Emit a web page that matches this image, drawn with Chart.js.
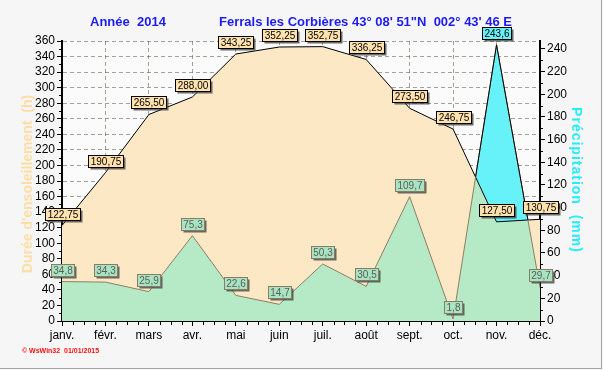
<!DOCTYPE html>
<html>
<head>
<meta charset="utf-8">
<script src="https://cdn.jsdelivr.net/npm/chart.js@4.4.1/dist/chart.umd.min.js"></script>
<style>
  html, body { margin: 0; padding: 0; background: #f6f6f6; }
  #wrap { width: 603px; height: 370px; }
</style>
</head>
<body>
<div id="wrap"><canvas id="chart" width="603" height="370"></canvas></div>
<script>
const months = ['janv.', 'févr.', 'mars', 'avr.', 'mai', 'juin', 'juil.', 'août', 'sept.', 'oct.', 'nov.', 'déc.'];
const sunshineHours = [122.75, 190.75, 265.50, 288.00, 343.25, 352.25, 352.75, 336.25, 273.50, 246.75, 127.50, 130.75];
const rainMm = [34.8, 34.3, 25.9, 75.3, 22.6, 14.7, 50.3, 30.5, 109.7, 1.8, 243.6, 29.7];
const leftTicks = [0, 20, 40, 60, 80, 100, 120, 140, 160, 180, 200, 220, 240, 260, 280, 300, 320, 340, 360];
const rightTicks = [0, 20, 40, 60, 80, 100, 120, 140, 160, 180, 200, 220, 240];

const FONT = '"Liberation Sans", Arial, sans-serif';
const BEIGE = '#FDE8C6';
const GREEN = '#B6EAC6';
const CYAN = '#66F2F8';
const GRID = 'rgba(95, 85, 65, 0.55)';

const fmt = (v, d) => v.toFixed(d).replace('.', ',');

function drawBox(ctx, text, cx, bottom, fill, border, color) {
  ctx.font = '10px ' + FONT;
  const w = Math.round(ctx.measureText(text).width) + 4;
  const h = 12;
  const x = Math.round(cx - w / 2) + 0.5;
  const y = Math.round(bottom - h) + 0.5;
  ctx.fillStyle = 'rgba(60,60,60,0.75)';
  ctx.fillRect(x + 2, y + 2, w, h);
  ctx.fillStyle = fill;
  ctx.fillRect(x, y, w, h);
  ctx.strokeStyle = border;
  ctx.lineWidth = 1;
  ctx.strokeRect(x, y, w, h);
  ctx.fillStyle = color;
  ctx.textAlign = 'center';
  ctx.textBaseline = 'middle';
  ctx.fillText(text, x + w / 2, y + h / 2 + 0.5);
}

const decorPlugin = {
  id: 'decor',
  beforeDraw(chart) {
    const { ctx, chartArea: a } = chart;
    ctx.save();
    ctx.fillStyle = '#f6f6f6';
    ctx.fillRect(0, 0, chart.width, chart.height);
    ctx.fillStyle = '#fbfbfb';
    ctx.fillRect(a.left, a.top, a.right - a.left, a.bottom - a.top);
    ctx.strokeStyle = '#a4a4a4';
    ctx.lineWidth = 1;
    ctx.beginPath();
    ctx.moveTo(0, 368.5); ctx.lineTo(602, 368.5);
    ctx.moveTo(601.5, 0); ctx.lineTo(601.5, 369);
    ctx.stroke();
    ctx.restore();
  },
  afterDatasetsDraw(chart) {
    // partie de la courbe de pluie au-dessus de l'ensoleillement : trait noir
    const { ctx, chartArea: a } = chart;
    const sun = chart.getDatasetMeta(0).data;
    const rain = chart.getDatasetMeta(1).data;
    ctx.save();
    ctx.beginPath();
    ctx.moveTo(sun[0].x, a.top - 30);
    sun.forEach(p => ctx.lineTo(p.x, p.y));
    ctx.lineTo(sun[sun.length - 1].x, a.top - 30);
    ctx.closePath();
    ctx.clip();
    ctx.beginPath();
    rain.forEach((p, i) => i ? ctx.lineTo(p.x, p.y) : ctx.moveTo(p.x, p.y));
    ctx.strokeStyle = '#000';
    ctx.lineWidth = 1;
    ctx.stroke();
    ctx.restore();
  },
  afterDraw(chart) {
    const { ctx, chartArea: a, scales } = chart;
    ctx.save();
    // petites graduations
    ctx.strokeStyle = '#000';
    ctx.lineWidth = 1;
    ctx.beginPath();
    for (let i = 0; i < months.length - 1; i++) {
      for (let k = 1; k < 4; k++) {
        const x = Math.round(scales.x.getPixelForValue(i + k / 4)) + 0.5;
        ctx.moveTo(x, a.bottom); ctx.lineTo(x, a.bottom + 4);
      }
    }
    for (let v = 10; v < 240; v += 20) {
      const y = Math.round(scales.y1.getPixelForValue(v)) + 0.5;
      ctx.moveTo(a.right, y); ctx.lineTo(a.right + 3, y);
    }
    for (let v = 10; v < 360; v += 20) {
      const y = Math.round(scales.y.getPixelForValue(v)) + 0.5;
      ctx.moveTo(a.left - 3, y); ctx.lineTo(a.left, y);
    }
    ctx.stroke();

    // étiquettes des valeurs
    const sun = chart.getDatasetMeta(0).data;
    const rain = chart.getDatasetMeta(1).data;
    rain.forEach((p, i) => {
      const peak = rainMm[i] === Math.max(...rainMm);
      drawBox(ctx, fmt(rainMm[i], 1), p.x, p.y - 6,
        peak ? CYAN : '#A6E4C4', peak ? '#000' : '#8a7c62', peak ? '#000' : '#5e5e52');
    });
    sun.forEach((p, i) => {
      drawBox(ctx, fmt(sunshineHours[i], 2), p.x, p.y - 6, '#FFE2AE', '#000', '#000');
    });

    // titres
    ctx.fillStyle = '#1c1cf2';
    ctx.font = 'bold 13px ' + FONT;
    ctx.textAlign = 'left';
    ctx.textBaseline = 'middle';
    ctx.fillText('Année  2014', 90, 22);
    ctx.fillText('Ferrals les Corbières 43° 08\' 51"N  002° 43\' 46 E', 219, 22);

    ctx.save();
    ctx.translate(28, 184);
    ctx.rotate(-Math.PI / 2);
    ctx.font = 'bold 14px ' + FONT;
    ctx.fillStyle = '#FFDDA4';
    ctx.textAlign = 'center';
    ctx.fillText("Durée d'ensoleillement  (h)", 0, 0);
    ctx.restore();

    ctx.save();
    ctx.translate(576, 180);
    ctx.rotate(Math.PI / 2);
    ctx.font = 'bold 14px ' + FONT;
    ctx.letterSpacing = '1px';
    ctx.fillStyle = '#22EEFF';
    ctx.textAlign = 'center';
    ctx.fillText('Précipitation  (mm)', 0, 0);
    ctx.restore();

    ctx.fillStyle = '#ff1010';
    ctx.font = 'bold 7px ' + FONT;
    ctx.textAlign = 'left';
    ctx.fillText('© WsWin32  01/01/2015', 22, 351);
    ctx.restore();
  }
};

const tickFont = { family: FONT, size: 12 };

new Chart(document.getElementById('chart'), {
  type: 'line',
  data: {
    labels: months,
    datasets: [
      { label: 'Ensoleillement', data: sunshineHours, yAxisID: 'y', borderColor: '#000', borderWidth: 1,
        backgroundColor: BEIGE, fill: 'origin', pointRadius: 0, tension: 0, order: 3 },
      { label: 'Précipitation', data: rainMm, yAxisID: 'y1', borderColor: '#8c7e64', borderWidth: 1,
        backgroundColor: GREEN, fill: 'origin', pointRadius: 0, tension: 0, order: 2 },
      { label: 'Précipitation > ensoleillement', data: rainMm, yAxisID: 'y1', borderColor: 'rgba(0,0,0,0)', borderWidth: 0,
        fill: { target: 0, above: CYAN, below: 'rgba(0,0,0,0)' }, pointRadius: 0, tension: 0, order: 1 }
    ]
  },
  options: {
    responsive: false,
    animation: false,
    devicePixelRatio: 1,
    layout: { padding: { top: 41, left: 0, right: 0, bottom: 0 } },
    plugins: {
      legend: { display: false },
      tooltip: { enabled: false },
      filler: { drawTime: 'beforeDatasetsDraw', propagate: false }
    },
    scales: {
      x: {
        offset: false, z: 1,
        grid: { color: GRID, tickLength: 5, tickColor: '#000', tickBorderDash: [] },
        border: { color: '#000', width: 1, dash: [4, 3] },
        ticks: { color: '#000', font: tickFont, padding: 2, maxRotation: 0, autoSkip: false },
        afterFit: s => { s.height = 49; }
      },
      y: {
        position: 'left', min: 0, max: 360, z: 1,
        grid: { color: GRID, tickLength: 5, tickColor: '#000', tickBorderDash: [] },
        border: { color: '#000', width: 2, dash: [4, 3] },
        ticks: { color: '#000', font: tickFont, padding: 2, autoSkip: false },
        afterBuildTicks: s => { s.ticks = leftTicks.map(v => ({ value: v })); },
        afterFit: s => { s.width = 62; }
      },
      y1: {
        position: 'right', min: 0, max: 247, z: 1,
        grid: { drawOnChartArea: false, tickLength: 5, tickColor: '#000' },
        border: { color: '#000', width: 2 },
        ticks: { color: '#000', font: tickFont, padding: 2, autoSkip: false },
        afterBuildTicks: s => { s.ticks = rightTicks.map(v => ({ value: v })); },
        afterFit: s => { s.width = 63; }
      }
    }
  },
  plugins: [decorPlugin]
});
</script>
</body>
</html>
